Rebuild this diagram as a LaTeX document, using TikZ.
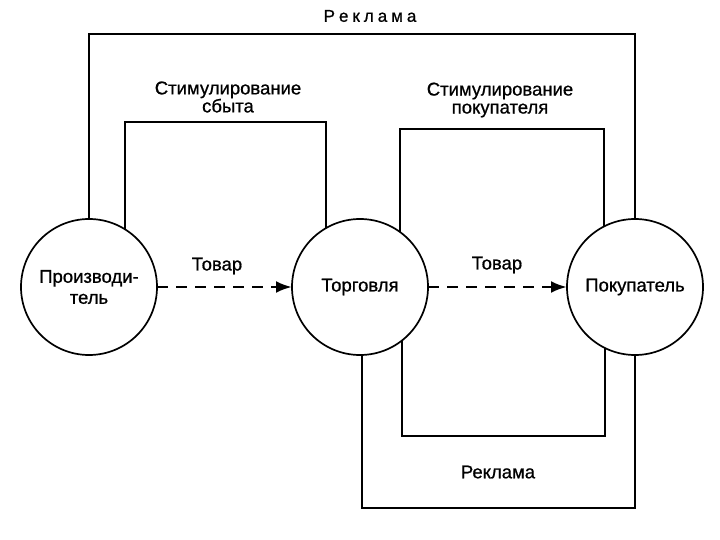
\documentclass[tikz,border=0pt]{standalone}
\usepackage{fontspec}
\setmainfont{Liberation Sans}
\newfontfamily\scanfont[FakeBold=0.8]{Liberation Sans}
\usetikzlibrary{arrows.meta}
\begin{document}
\begin{tikzpicture}[x=1pt,y=-1pt,
  actor/.style={circle,draw,line width=1.7pt,minimum size=136pt,inner sep=0pt,outer sep=0pt,align=center,font=\scanfont\fontsize{18.5}{21}\selectfont},
  link/.style={line width=1.9pt},
  flow/.style={line width=2.8pt,dash pattern=on 11pt off 8pt,-{Latex[length=16pt,width=12pt]}},
  lbl/.style={font=\scanfont\fontsize{18.5}{18}\selectfont,inner sep=0pt,align=center}]
\useasboundingbox[fill=white] (0,0) rectangle (720,540);
\node[actor] (P1) at (89,287) {Производи-\\тель};
\node[actor] (P2) at (360,287) {Торговля};
\node[actor] (P3) at (635,287) {Покупатель};
\coordinate (ytop) at (0,34);
\coordinate (ysb) at (0,122);
\coordinate (ypk) at (0,129);
\coordinate (yin) at (0,436);
\coordinate (yout) at (0,508);
% top advertising loop
\draw[link] (P1.north) -- (P1.north |- ytop) -- (P3.north |- ytop) -- (P3.north);
\node[lbl,font=\scanfont\fontsize{17}{18}\selectfont] (r1) at (370,16) {Р\hspace{4pt}е\hspace{4pt}к\hspace{4pt}л\hspace{4pt}а\hspace{4pt}м\hspace{4pt}а};
% sales promotion
\draw[link] (P1.58) -- (P1.58 |- ysb) -- (P2.120 |- ysb) -- (P2.120);
\node[lbl] (s1) at (228,97) {Стимулирование\\сбыта};
% buyer promotion
\draw[link] (P2.54) -- (P2.54 |- ypk) -- (P3.117 |- ypk) -- (P3.117);
\node[lbl] (s2) at (500,100) {Стимулирование\\покупателя};
% inner bottom loop
\draw[link] (P2.-52) -- (P2.-52 |- yin) -- (P3.-116 |- yin) -- (P3.-116);
% outer bottom advertising loop
\draw[link] (P2.-88) -- (P2.-88 |- yout) -- (P3.south |- yout) -- (P3.south);
\node[lbl] (r2) at (498,472) {Реклама};
% goods flows
\draw[flow] (P1.east) -- (P2.west);
\node[lbl] (g1) at (217,266) {Товар};
\draw[flow] (P2.east) -- (P3.west);
\node[lbl] (g2) at (497,265) {Товар};
\end{tikzpicture}
\end{document}
